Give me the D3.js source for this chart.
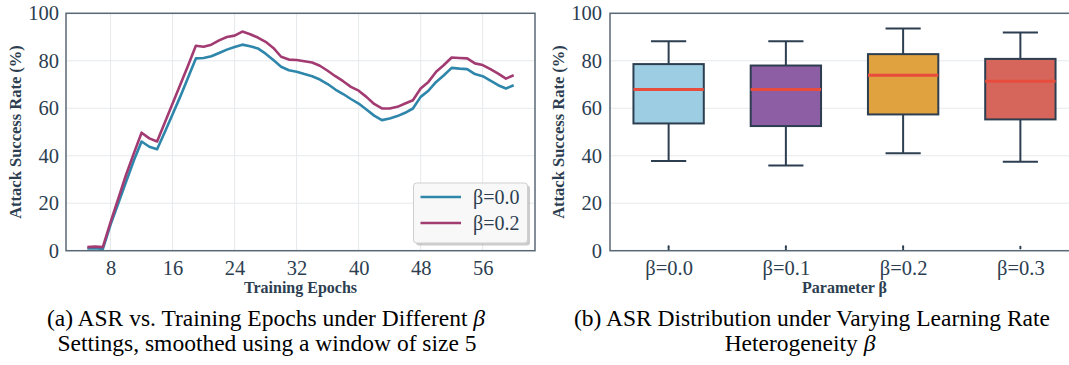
<!DOCTYPE html>
<html>
<head>
<meta charset="utf-8">
<script src="https://cdn.jsdelivr.net/npm/d3@7/dist/d3.min.js"></script>
<style>
  html, body { margin: 0; padding: 0; background: #fff; }
  svg { display: block; }
  text { font-family: "Liberation Serif", "Times New Roman", serif; }
</style>
</head>
<body>
<svg id="chart" width="1069" height="365"></svg>
<script>
// ---------- Data ----------
const epochs = [5,6,7,8,9,10,11,12,13,14,15,16,17,18,19,20,21,22,23,24,25,26,27,28,29,30,31,32,33,34,35,36,37,38,39,40,41,42,43,44,45,46,47,48,49,50,51,52,53,54,55,56,57,58,59,60];
const asrBeta00 = [1.0,1.0,0.7,11,20,29,38,46,43.8,42.7,50,57.5,65,73,81,81.2,81.9,83.3,84.7,85.8,86.8,86.1,85.2,83,80.3,77.5,76,75.4,74.4,73.5,72.1,70.2,67.9,66,63.9,62,59.5,56.9,55,55.7,56.7,58.1,59.9,64.8,67.4,71.1,73.9,77,76.7,76.5,74.4,73.5,71.6,69.7,68.3,69.7];
const asrBeta02 = [1.5,1.7,1.5,12,22,32,41,49.7,47.3,46,54,62,70,78,86.3,85.9,86.8,88.6,90,90.6,92.3,91.2,89.8,88,85.4,81.7,80.5,80.3,79.8,79.3,77.9,75.8,73.5,71.4,69,67.4,64.8,61.8,59.9,59.9,60.6,62,63.4,68.3,71.1,75.4,78.2,81.4,81.2,81,78.9,78.2,76.5,74.6,72.5,73.9];
const lineSeriesNames = ["β=0.0", "β=0.2"];
const lineTicksX = [8,16,24,32,40,48,56];
const ticksY = [0,20,40,60,80,100];

const boxCategories = ["β=0.0", "β=0.1", "β=0.2", "β=0.3"];
const whiskerLow  = [37.8, 35.9, 41.0, 37.5];
const q1          = [53.6, 52.5, 57.4, 55.3];
const median      = [67.9, 67.9, 73.9, 71.4];
const q3          = [78.6, 78.0, 82.8, 80.8];
const whiskerHigh = [88.2, 88.2, 93.6, 91.9];
const fliers      = [[0.6, 1.2, 1.8], [0.6, 1.2, 1.8], [0.6, 1.2, 1.8], [1.0, 1.6]];

// ---------- Styles ----------
const lineColors = ["#2E86AB", "#A23B72"];
const boxColors = ["#9dcde2", "#8e5ea4", "#e0a13f", "#d6665b"];
const dark = "#2c3e50";
const spine = "#5a6876";
const gridC = "#e6e9ec";

const svg = d3.select("#chart");
svg.append("rect").attr("width", 1069).attr("height", 365).attr("fill", "#fff");

const plotTop = 13.3, plotBottom = 250.7;

// ================= Panel (a) =================
const a = { left: 66, right: 535 };
const xA = d3.scaleLinear().domain([2.25, 62.75]).range([a.left, a.right]);
const yA = d3.scaleLinear().domain([0, 100]).range([plotBottom, plotTop]);
const gA = svg.append("g");

// grid
gA.append("g").selectAll("line").data(lineTicksX).join("line")
  .attr("x1", d => xA(d)).attr("x2", d => xA(d))
  .attr("y1", plotTop).attr("y2", plotBottom)
  .attr("stroke", gridC).attr("stroke-width", 1);
gA.append("g").selectAll("line").data(ticksY).join("line")
  .attr("x1", a.left).attr("x2", a.right)
  .attr("y1", d => yA(d)).attr("y2", d => yA(d))
  .attr("stroke", gridC).attr("stroke-width", 1);

// axes (labels only)
const axXA = d3.axisBottom(xA).tickValues(lineTicksX).tickSize(0).tickPadding(9.5);
const axYA = d3.axisLeft(yA).tickValues(ticksY).tickSize(0).tickPadding(7);
function styleAxis(g) {
  g.select(".domain").remove();
  g.selectAll("text").attr("font-size", 20.5).attr("fill", dark);
}
gA.append("g").attr("transform", `translate(0,${plotBottom})`).call(axXA).call(styleAxis);
gA.append("g").attr("transform", `translate(${a.left},0)`).call(axYA).call(styleAxis);

// lines
const seriesA = [asrBeta00, asrBeta02];
const lineGen = d3.line().x((d, i) => xA(epochs[i])).y(d => yA(d));
seriesA.forEach((s, k) => {
  gA.append("path").datum(s).attr("d", lineGen)
    .attr("fill", "none").attr("stroke", lineColors[k])
    .attr("stroke-width", 2.6).attr("stroke-linejoin", "round");
});

// frame
gA.append("rect").attr("x", a.left).attr("y", plotTop)
  .attr("width", a.right - a.left).attr("height", plotBottom - plotTop)
  .attr("fill", "none").attr("stroke", spine).attr("stroke-width", 1.5);

// legend
const lg = gA.append("g");
lg.append("rect").attr("x", 416).attr("y", 185.5).attr("width", 114).attr("height", 60)
  .attr("rx", 3).attr("fill", "#999").attr("opacity", 0.5);
lg.append("rect").attr("x", 413.5).attr("y", 183).attr("width", 114).attr("height", 60)
  .attr("rx", 3).attr("fill", "#f8f8f8").attr("stroke", "#cfcfcf").attr("stroke-width", 1);
lineSeriesNames.forEach((n, k) => {
  const yy = 197 + k * 26;
  lg.append("line").attr("x1", 420.5).attr("x2", 461).attr("y1", yy).attr("y2", yy)
    .attr("stroke", lineColors[k]).attr("stroke-width", 2.6);
  lg.append("text").attr("x", 473).attr("y", yy).attr("dy", "0.35em")
    .attr("font-size", 20).attr("fill", dark).text(n);
});

// titles
gA.append("text").attr("x", (a.left + a.right) / 2).attr("y", 293)
  .attr("text-anchor", "middle").attr("font-weight", "bold").attr("font-size", 16)
  .attr("fill", dark).text("Training Epochs");
gA.append("text").attr("transform", `translate(21,${(plotTop + plotBottom) / 2}) rotate(-90)`)
  .attr("text-anchor", "middle").attr("font-weight", "bold").attr("font-size", 16.5)
  .attr("fill", dark).text("Attack Success Rate (%)");

// ================= Panel (b) =================
const b = { left: 610, right: 1079 };
const xB = d3.scaleLinear().domain([0.5, 4.5]).range([b.left, b.right]);
const yB = d3.scaleLinear().domain([0, 100]).range([plotBottom, plotTop]);
const gB = svg.append("g");

gB.append("g").selectAll("line").data(ticksY).join("line")
  .attr("x1", b.left).attr("x2", b.right)
  .attr("y1", d => yB(d)).attr("y2", d => yB(d))
  .attr("stroke", gridC).attr("stroke-width", 1);

const axXB = d3.axisBottom(xB).tickValues([1,2,3,4]).tickFormat((d) => boxCategories[d - 1]).tickSize(0).tickPadding(9.5);
const axYB = d3.axisLeft(yB).tickValues(ticksY).tickSize(0).tickPadding(8);
gB.append("g").attr("transform", `translate(0,${plotBottom})`).call(axXB).call(styleAxis);
gB.append("g").attr("transform", `translate(${b.left},0)`).call(axYB).call(styleAxis);

const bw = 0.6, cw = 0.3;
boxCategories.forEach((c, i) => {
  const p = i + 1;
  const g = gB.append("g");
  // whiskers
  g.append("line").attr("x1", xB(p)).attr("x2", xB(p)).attr("y1", yB(whiskerLow[i])).attr("y2", yB(q1[i]))
    .attr("stroke", dark).attr("stroke-width", 2);
  g.append("line").attr("x1", xB(p)).attr("x2", xB(p)).attr("y1", yB(q3[i])).attr("y2", yB(whiskerHigh[i]))
    .attr("stroke", dark).attr("stroke-width", 2);
  [whiskerLow[i], whiskerHigh[i]].forEach(v => {
    g.append("line").attr("x1", xB(p - cw / 2)).attr("x2", xB(p + cw / 2)).attr("y1", yB(v)).attr("y2", yB(v))
      .attr("stroke", dark).attr("stroke-width", 2);
  });
  // box
  g.append("rect").attr("x", xB(p - bw / 2)).attr("y", yB(q3[i]))
    .attr("width", xB(p + bw / 2) - xB(p - bw / 2)).attr("height", yB(q1[i]) - yB(q3[i]))
    .attr("fill", boxColors[i]).attr("stroke", dark).attr("stroke-width", 2);
  // median
  g.append("line").attr("x1", xB(p - bw / 2)).attr("x2", xB(p + bw / 2)).attr("y1", yB(median[i])).attr("y2", yB(median[i]))
    .attr("stroke", "#e74c3c").attr("stroke-width", 3);
  // fliers
  g.selectAll("circle.f").data(fliers[i]).join("circle")
    .attr("cx", xB(p)).attr("cy", d => yB(d)).attr("r", 1.1).attr("fill", dark);
});

gB.append("rect").attr("x", b.left).attr("y", plotTop)
  .attr("width", b.right - b.left).attr("height", plotBottom - plotTop)
  .attr("fill", "none").attr("stroke", spine).attr("stroke-width", 1.5);

gB.append("text").attr("x", (b.left + b.right) / 2).attr("y", 293)
  .attr("text-anchor", "middle").attr("font-weight", "bold").attr("font-size", 16)
  .attr("fill", dark).text("Parameter β");
gB.append("text").attr("transform", `translate(564,${(plotTop + plotBottom) / 2}) rotate(-90)`)
  .attr("text-anchor", "middle").attr("font-weight", "bold").attr("font-size", 16.5)
  .attr("fill", dark).text("Attack Success Rate (%)");

// ================= Captions =================
function caption(x, y, parts) {
  const t = svg.append("text").attr("x", x).attr("y", y).attr("text-anchor", "middle")
    .attr("font-size", 23.5).attr("fill", "#000");
  parts.forEach(p => {
    t.append("tspan").attr("font-style", p.it ? "italic" : "normal").text(p.t);
  });
}
caption(266, 326, [{t: "(a) ASR vs. Training Epochs under Different "}, {t: "β", it: true}]);
caption(267, 351, [{t: "Settings, smoothed using a window of size 5"}]);
caption(812, 326, [{t: "(b) ASR Distribution under Varying Learning Rate"}]);
caption(800, 351, [{t: "Heterogeneity "}, {t: "β", it: true}]);
</script>
</body>
</html>
